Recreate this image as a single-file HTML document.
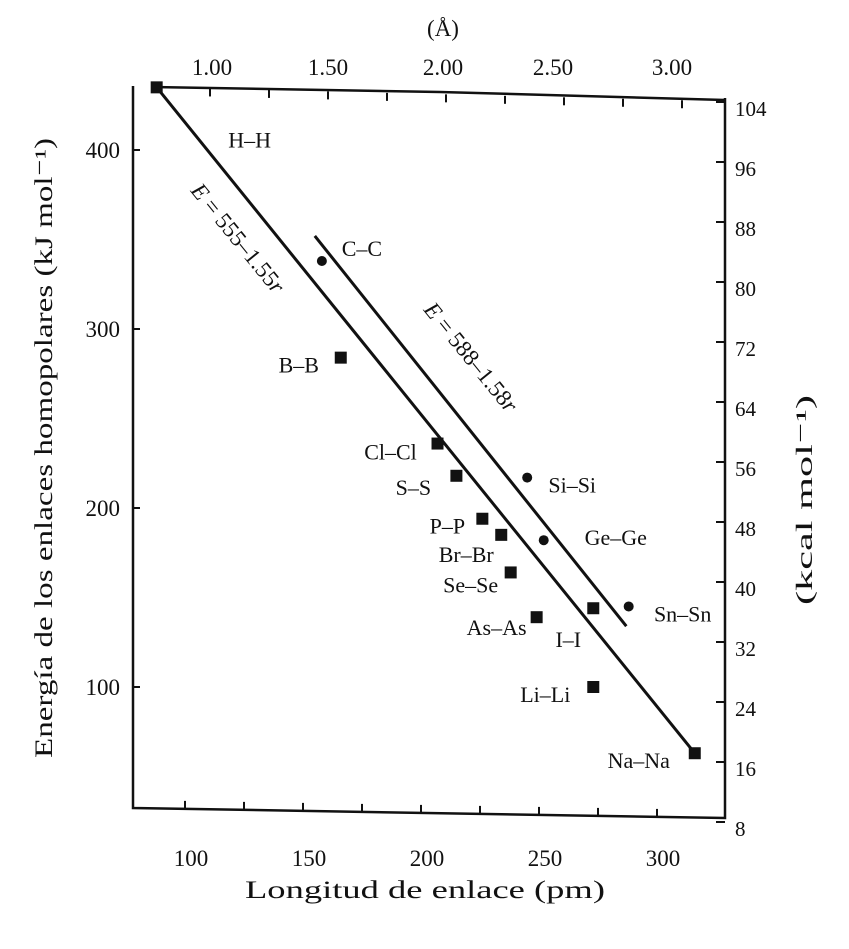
<!DOCTYPE html>
<html><head><meta charset="utf-8"><style>
body{margin:0;background:#fff}
svg text{font-family:"Liberation Serif",serif;fill:#111}
</style></head><body>
<svg width="849" height="944" viewBox="0 0 849 944" id="c">
<g id="frame" stroke="#111" stroke-width="2.5" fill="none">
 <path d="M133,86 L133,808 L725,818 L725,98"/>
 <path d="M152,87 L440,92 L725,100"/>
</g>
<g id="ax"></g><g id="marks"></g>
<text x="425" y="898" font-size="25" text-anchor="middle" textLength="360" lengthAdjust="spacingAndGlyphs">Longitud de enlace (pm)</text>
<text x="443" y="36" font-size="23" text-anchor="middle">(Å)</text>
<text transform="translate(52,448) rotate(-90)" font-size="25" text-anchor="middle" textLength="620" lengthAdjust="spacingAndGlyphs">Energía de los enlaces homopolares (kJ mol⁻¹)</text>
<text transform="translate(812,500) rotate(-90)" font-size="23" text-anchor="middle" textLength="210" lengthAdjust="spacingAndGlyphs">(kcal mol⁻¹)</text>
<text transform="translate(232,243) rotate(51)" font-size="23" text-anchor="middle"><tspan font-style="italic">E</tspan> = 555–1.55<tspan font-style="italic">r</tspan></text>
<text transform="translate(465,362) rotate(51)" font-size="23" text-anchor="middle"><tspan font-style="italic">E</tspan> = 588–1.58<tspan font-style="italic">r</tspan></text>
</svg>
<script>
const xTicks=[100,150,200,250,300];
const yTicks=[100,200,300,400];
const kcalTicks=[8,16,24,32,40,48,56,64,72,80,88,96,104];
const topLabels=["1.00","1.50","2.00","2.50","3.00"];
const bondNames=["H–H","C–C","B–B","Cl–Cl","S–S","Si–Si","P–P","Br–Br","Ge–Ge","Se–Se","As–As","I–I","Sn–Sn","Li–Li","Na–Na"];
const bondLength=[88,158,166,207,215,245,226,234,252,238,249,273,288,273,316];
const bondEnergy=[435,338,284,236,218,217,194,185,182,164,139,144,145,100,63];
const markerType=["s","c","s","s","s","c","s","s","c","s","s","s","c","s","s"];
const line1=[[88,435],[316,63]];
const line2=[[155,352],[287,134]];
const X=v=>185+(v-100)*2.36;
const Y=v=>687-(v-100)*1.79;
const K=k=>828-(k-8)*7.5;
const NS="http://www.w3.org/2000/svg";
function mk(t,p,a){const e=document.createElementNS(NS,t);for(const k in a)e.setAttribute(k,a[k]);p.appendChild(e);return e;}
const ax=document.getElementById('ax'),mg=document.getElementById('marks');
xTicks.forEach(v=>{const t=mk('text',ax,{x:X(v)+6,y:866,'font-size':23,'text-anchor':'middle'});t.textContent=v;

});
for(let v=100;v<=300;v+=25){const l=mk('line',ax,{x1:X(v),x2:X(v),y1:808+(X(v)-133)*0.017,y2:800+(X(v)-133)*0.017,stroke:'#111','stroke-width':2});

}
yTicks.forEach(v=>{const t=mk('text',ax,{x:120,y:Y(v)+8,'font-size':23,'text-anchor':'end'});t.textContent=v;


const l=mk('line',ax,{x1:133,x2:140,y1:Y(v),y2:Y(v),stroke:'#111','stroke-width':2});

});
kcalTicks.forEach(k=>{const t=mk('text',ax,{x:735,y:K(k)+8,'font-size':21});t.textContent=k;


const l=mk('line',ax,{x1:716,x2:725,y1:K(k)-6,y2:K(k)-6,stroke:'#111','stroke-width':2});

});
const topX=[212,328,443,553,672];
topLabels.forEach((s,i)=>{const t=mk('text',ax,{x:topX[i],y:75,'font-size':23,'text-anchor':'middle'});t.textContent=s;

});
for(let i=0;i<9;i++){const x=210+i*59;const y=87+(x-152)*0.025;const l=mk('line',ax,{x1:x,x2:x,y1:y,y2:y+8,stroke:'#111','stroke-width':2});

}
[line1,line2].forEach((L,i)=>{const l=mk('line',mg,{x1:X(L[0][0]),y1:Y(L[0][1]),x2:X(L[1][0]),y2:Y(L[1][1]),stroke:'#111','stroke-width':3});

});
const labelOff=[[93,53],[40,-12],[-42,8],[-47,9],[-43,12],[45,8],[-35,8],[-35,20],[72,-2],[-40,13],[-40,11],[-25,32],[54,8],[-48,8],[-56,8]];
bondNames.forEach((n,i)=>{const cx=X(bondLength[i]),cy=Y(bondEnergy[i]);let m;
if(markerType[i]=='s')m=mk('rect',mg,{x:cx-6,y:cy-6,width:12,height:12,fill:'#111'});
else m=mk('circle',mg,{cx:cx,cy:cy,r:5,fill:'#111'});


const t=mk('text',mg,{x:cx+labelOff[i][0],y:cy+labelOff[i][1]+7,'font-size':22,'text-anchor':'middle'});t.textContent=n;

});
</script>
</body></html>
